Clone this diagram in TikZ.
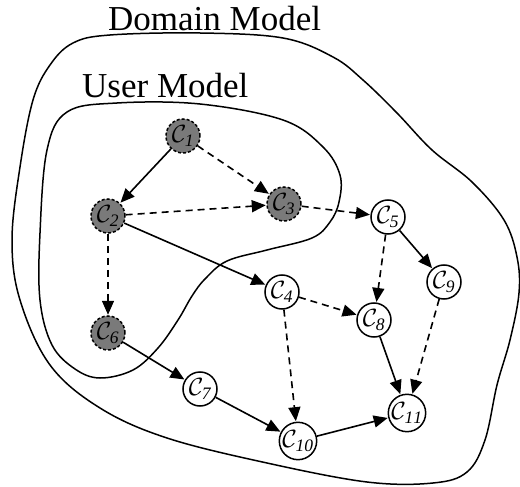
\documentclass[tikz,border=0pt]{standalone}
\usepackage{fontspec}
\setmainfont{Liberation Serif}
\usetikzlibrary{arrows.meta}
\tikzset{
  cnode/.style={circle, draw, line width=1.5pt, minimum size=34pt, inner sep=0pt, fill=white, font=\fontsize{25}{27}\selectfont},
  known/.style={cnode, fill=black!52, dash pattern=on 3pt off 2pt},
  edge/.style={line width=1.6pt, -{Triangle[length=14pt,width=12pt]}, shorten >=0.5pt},
  dedge/.style={edge, dash pattern=on 7pt off 5pt},
  region/.style={line width=1.5pt},
  title/.style={font=\fontsize{35}{40}\selectfont, inner sep=0pt, anchor=base west}
}
\begin{document}
\begin{tikzpicture}[x=1pt,y=-1pt]
\useasboundingbox (0,0) rectangle (520,487);
% domain outline
\draw[region] plot[smooth cycle, tension=0.6] coordinates {
 (110,35) (200,33) (283,38) (333,57) (363,80) (397,113) (432,150) (472,182)
 (504,220) (517,257) (519,293) (510,340) (497,385) (485,440) (467,472)
 (433,483) (367,482) (267,463) (167,438) (100,408) (50,365) (20,300)
 (12,240) (20,167) (33,100) (50,65) (73,43)};
% user outline
\draw[region] plot[smooth cycle, tension=0.6] coordinates {
 (67,112) (117,103) (200,104) (283,120) (323,147) (340,175) (339,202)
 (330,222) (312,238) (267,250) (227,261) (205,279) (192,296) (178,320)
 (158,348) (133,370) (100,378) (75,369) (52,345) (40,300) (40,233)
 (47,150)};
\node[title] (dm) at (108,31) {Domain Model};
\node[title] (um) at (82,98) {User Model};
% nodes
\node[known] (c1) at (183,136) {$\mathcal{C}_{\mathit{1}}$};
\node[known] (c2) at (108,216) {$\mathcal{C}_{\mathit{2}}$};
\node[known] (c3) at (284,204) {$\mathcal{C}_{\mathit{3}}$};
\node[known] (c6) at (108,333) {$\mathcal{C}_{\mathit{6}}$};
\node[cnode] (c5) at (388,217) {$\mathcal{C}_{\mathit{5}}$};
\node[cnode] (c4) at (282,292) {$\mathcal{C}_{\mathit{4}}$};
\node[cnode] (c9) at (444,282) {$\mathcal{C}_{\mathit{9}}$};
\node[cnode] (c8) at (374,320) {$\mathcal{C}_{\mathit{8}}$};
\node[cnode] (c7) at (200,389) {$\mathcal{C}_{\mathit{7}}$};
\node[cnode] (c10) at (298,441) {$\mathcal{C}_{\mathit{10}}$};
\node[cnode] (c11) at (407,413) {$\mathcal{C}_{\mathit{11}}$};
% edges
\draw[edge] (c1) -- (c2);
\draw[dedge] (c1) -- (c3);
\draw[dedge] (c2) -- (c3);
\draw[dedge] (c3) -- (c5);
\draw[dedge] (c2) -- (c6);
\draw[edge] (c2) -- (c4);
\draw[dedge] (c4) -- (c8);
\draw[dedge] (c4) -- (c10);
\draw[dedge] (c5) -- (c8);
\draw[edge] (c5) -- (c9);
\draw[dedge] (c9) -- (c11);
\draw[edge] (c8) -- (c11);
\draw[edge] (c6) -- (c7);
\draw[edge] (c7) -- (c10);
\draw[edge] (c10) -- (c11);
\end{tikzpicture}
\end{document}
